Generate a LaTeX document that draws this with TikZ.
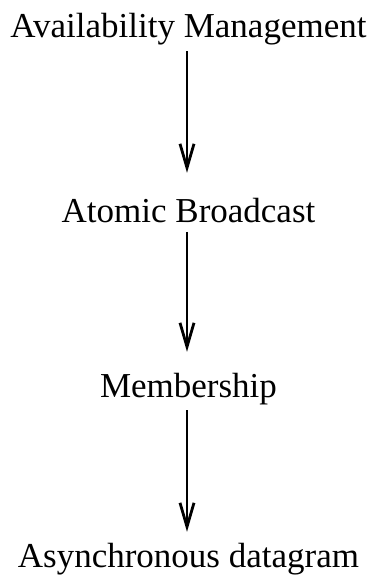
\documentclass[tikz,border=0pt]{standalone}
\usepackage{fontspec}
\setmainfont{Liberation Serif}
\usetikzlibrary{arrows.meta}
\begin{document}
\begin{tikzpicture}[x=1pt, y=-1pt,
  layer/.style={anchor=base, inner sep=0pt, text height=25pt, text depth=8pt,
    font=\fontsize{35}{40}\selectfont},
  flow/.style={line width=2.8pt,
    -{Straight Barb[length=24pt, width=14pt, line width=2.8pt]}}]
\useasboundingbox (0,0) rectangle (377,581);
% protocol layers, top to bottom
\node[layer] (avail) at (188.5,37.5) {Availability Management};
\node[layer] (abcast) at (188.5,222) {Atomic Broadcast};
\node[layer] (member) at (188.5,397) {Membership};
\node[layer] (dgram) at (188.5,567) {Asynchronous datagram};
% dependencies
\draw[flow, shorten <=5.5pt, shorten >=24pt] (avail.south -| 187,0) -- (abcast.north -| 187,0);
\draw[flow, shorten <=1.7pt, shorten >=20pt] (abcast.south -| 187,0) -- (member.north -| 187,0);
\draw[flow, shorten <=5pt, shorten >=10pt] (member.south -| 187,0) -- (dgram.north -| 187,0);
\end{tikzpicture}
\end{document}
